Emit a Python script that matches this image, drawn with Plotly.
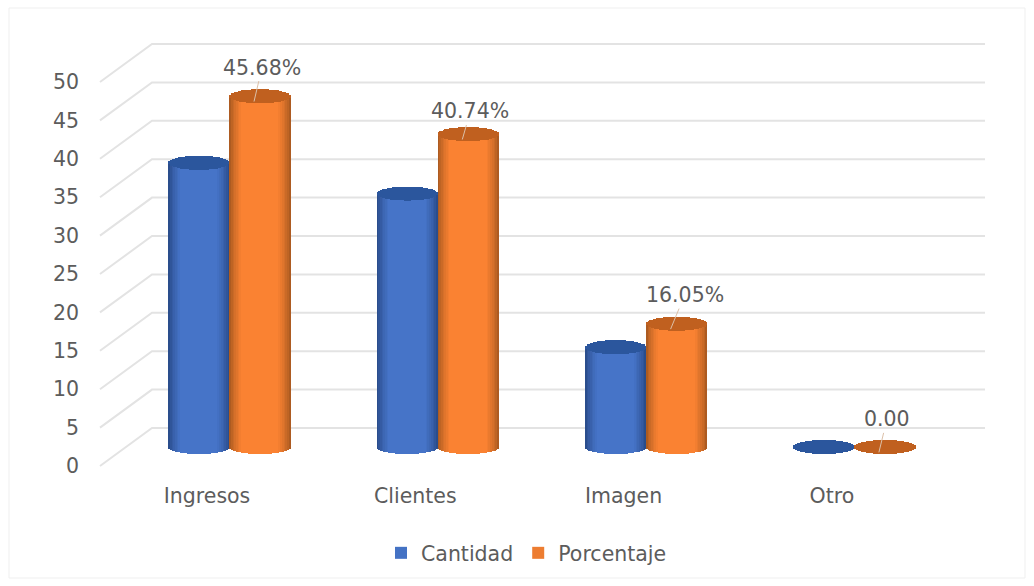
import numpy as np
import plotly.graph_objects as go

categories = ["Ingresos", "Clientes", "Imagen", "Otro"]
cantidad = [37, 33, 13, 0]
porcentaje = [45.68, 40.74, 16.05, 0.0]
porcentaje_labels = ["45.68%", "40.74%", "16.05%", "0.00"]
y_ticks = [0, 5, 10, 15, 20, 25, 30, 35, 40, 45, 50]

W, H = 1034, 586
PX_X = 208.3          # px per category
PX_Y = 7.68           # px per value unit
X0 = 207              # px of first category label
Y_FRONT = 466         # px of 0 on the front (tick) plane
Y_BACK = 428          # px of 0 on the back wall
Y_BAR = 447           # px of 0 where the cylinders stand
RX = 30.5 / PX_X      # cylinder half width
RY = 7 / PX_Y         # cylinder ellipse half height
SHIFT = 22.5 / PX_X   # cylinder pair shift from label
N = 36

BLUE, BLUE_EDGE, BLUE_TOP = (70, 116, 200), (38, 70, 130), (44, 88, 160)
ORANGE, ORANGE_EDGE, ORANGE_TOP = (250, 130, 50), (160, 85, 30), (196, 98, 32)
GRID = "#e3e3e3"
TEXT = "#5c5c5c"
FONT = "DejaVu Sans"
FS = 20.5
LABEL_AX = [8, 8, 14, 8]
LABEL_AY = [-34, -28, -34, -33]


def px_x(p):
    return (p - X0) / PX_X


def mix(c, e, f):
    return "rgb(%d,%d,%d)" % tuple(e[i] + (c[i] - e[i]) * f for i in range(3))


fig = go.Figure()

# grid: back wall lines plus side wall diagonals, on the front value axis
depth = (Y_FRONT - Y_BACK) / PX_Y
gx, gy = [], []
for v in y_ticks:
    gx += [px_x(100), px_x(152), px_x(985), None]
    gy += [v, v + depth, v + depth, None]
fig.add_trace(go.Scatter(x=gx, y=gy, mode="lines", line=dict(color=GRID, width=2),
                         showlegend=False, hoverinfo="skip"))

x_idx = np.arange(len(categories))
series = [
    ("Cantidad", cantidad, -RX, BLUE, BLUE_EDGE, BLUE_TOP, "#4472C4"),
    ("Porcentaje", porcentaje, RX, ORANGE, ORANGE_EDGE, ORANGE_TOP, "#ED7D31"),
]
for name, vals, off, col, edge, top, swatch in series:
    vals = np.array(vals, dtype=float)
    cx = x_idx + SHIFT + off
    fig.add_trace(go.Bar(x=cx, y=vals, width=2 * RX, name=name, yaxis="y3",
                         marker=dict(color=swatch, line=dict(width=0)),
                         hoverinfo="skip"))
    edges = np.linspace(-1, 1, N + 1)
    mids = (edges[:-1] + edges[1:]) / 2
    w = 2 * RX / N * 1.25
    for t in mids:
        s = np.sqrt(max(0, 1 - t * t))
        f = np.clip((1 - abs(t)) / 0.4, 0, 1) ** 0.7
        base = np.full(4, -RY * s)
        fig.add_trace(go.Bar(x=cx + t * RX, y=vals - base, base=base, width=w, yaxis="y3",
                             marker=dict(color=mix(col, edge, f), line=dict(width=0)),
                             showlegend=False, hoverinfo="skip"))
    for t in mids:
        s = np.sqrt(max(0, 1 - t * t))
        fig.add_trace(go.Bar(x=cx + t * RX, y=np.full(4, 2 * RY * s), base=vals - RY * s,
                             width=w, yaxis="y3",
                             marker=dict(color=mix(top, edge, 0.9), line=dict(width=0)),
                             showlegend=False, hoverinfo="skip"))

annotations = []
for i, lab in enumerate(porcentaje_labels):
    annotations.append(dict(
        x=i + SHIFT + RX - 6 / PX_X, y=porcentaje[i] - 0.7, xref="x", yref="y3",
        text=lab, showarrow=True, arrowhead=0, arrowwidth=1, arrowcolor="#dcc0a8",
        ax=LABEL_AX[i], ay=LABEL_AY[i], font=dict(family=FONT, size=FS, color=TEXT),
    ))

fig.update_layout(
    width=W, height=H, margin=dict(l=0, r=0, t=0, b=0),
    paper_bgcolor="white", plot_bgcolor="rgba(0,0,0,0)",
    barmode="overlay", bargap=0,
    font=dict(family=FONT, size=FS, color=TEXT),
    xaxis=dict(range=[px_x(0), px_x(W)], tickmode="array", tickvals=list(x_idx),
               ticktext=categories, showgrid=False, zeroline=False, showline=False,
               ticks="", anchor="free", position=(H - 481) / H,
               tickfont=dict(family=FONT, size=FS, color=TEXT)),
    yaxis=dict(range=[(Y_FRONT - H) / PX_Y, Y_FRONT / PX_Y], tickmode="array",
               tickvals=y_ticks, showgrid=False, zeroline=False, showline=False,
               ticks="", anchor="free", position=79 / W,
               tickfont=dict(family=FONT, size=FS, color=TEXT)),
    yaxis3=dict(range=[(Y_BAR - H) / PX_Y, Y_BAR / PX_Y], overlaying="y", visible=False,
                showgrid=False, zeroline=False),
    legend=dict(orientation="h", x=381 / W, xanchor="left", y=(H - 553) / H, yanchor="middle",
                bgcolor="rgba(0,0,0,0)", font=dict(family=FONT, size=FS, color=TEXT),
                itemclick=False, itemdoubleclick=False),
    annotations=annotations,
    shapes=[dict(type="rect", xref="paper", yref="paper", x0=9 / W, x1=1025 / W,
                 y0=(H - 578) / H, y1=(H - 8) / H, line=dict(color="#efefef", width=1),
                 layer="below")],
    showlegend=True,
)

fig.write_html("out.html", config={"displayModeBar": False},
               post_script="document.body.style.margin='0';")
